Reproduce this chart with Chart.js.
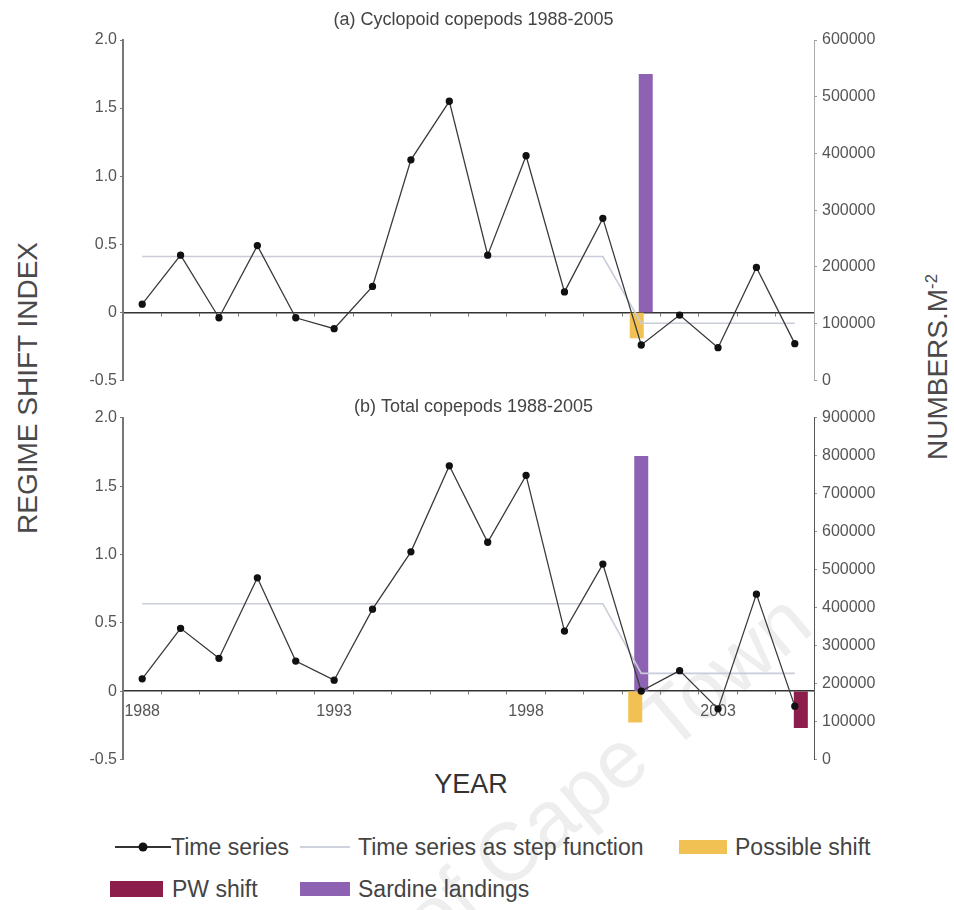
<!DOCTYPE html>
<html>
<head>
<meta charset="utf-8">
<script src="https://cdn.jsdelivr.net/npm/chart.js@4.4.1/dist/chart.umd.min.js"></script>
<style>
  body { margin: 0; background: #fff; }
  #page { position: relative; width: 954px; height: 910px; overflow: hidden; font-family: "Liberation Sans", Arial, sans-serif; color: #3a3a3a; }
  canvas { position: absolute; left: 0; z-index: 1; }
  #chartA { top: 0; }
  #chartB { top: 395px; }
  .rot { position: absolute; transform: translate(-50%, -50%) rotate(-90deg); white-space: nowrap; color: #4a4a4a; }
  .rot sup { font-size: 60%; }
  #yearLabel { position: absolute; left: 471px; top: 784px; transform: translate(-50%, -50%); font-size: 27px; color: #333; }
  .leg { position: absolute; display: flex; align-items: center; height: 28px; font-size: 23px; color: #444; white-space: nowrap; }
  .leg .sw { display: inline-block; width: 48px; height: 14px; margin-right: 8px; }
  #mark { position: absolute; left: 460px; top: 893px; transform: translate(-50%, -50%) rotate(-40deg); font-size: 82px; color: #eeeeee; white-space: nowrap; z-index: 0; }
</style>
</head>
<body>
<div id="page">
  <div id="mark">University of Cape Town</div>
  <canvas id="chartA" width="954" height="395"></canvas>
  <canvas id="chartB" width="954" height="379"></canvas>

  <div class="rot" style="left:28px;top:388px;font-size:28px;">REGIME SHIFT INDEX</div>
  <div class="rot" style="left:938px;top:367px;font-size:28px;">NUMBERS.M<sup>-2</sup></div>
  <div id="yearLabel">YEAR</div>

  <div class="leg" style="left:115px;top:833px;">
    <svg width="56" height="28"><line x1="0" y1="14" x2="56" y2="14" stroke="#333" stroke-width="2"/><circle cx="28" cy="14" r="4.5" fill="#111"/></svg>
    <span>Time series</span>
  </div>
  <div class="leg" style="left:300px;top:833px;">
    <svg width="50" height="28" style="margin-right:8px"><line x1="0" y1="14" x2="50" y2="14" stroke="#cfd1dc" stroke-width="2"/></svg>
    <span>Time series as step function</span>
  </div>
  <div class="leg" style="left:679px;top:833px;">
    <span class="sw" style="background:#f2c153"></span><span>Possible shift</span>
  </div>
  <div class="leg" style="left:110px;top:875px;">
    <span class="sw" style="background:#8b1e4a;width:53px;height:16px;margin-right:9px"></span><span>PW shift</span>
  </div>
  <div class="leg" style="left:300px;top:875px;">
    <span class="sw" style="background:#8e62b3;width:50px"></span><span>Sardine landings</span>
  </div>
</div>

<script>
// years on the x axis
const years = [1988, 1989, 1990, 1991, 1992, 1993, 1994, 1995, 1996, 1997,
               1998, 1999, 2000, 2001, 2002, 2003, 2004, 2005];
const yearLabelEvery = 5;

// left axis (regime shift index)
const indexMin = -0.5;
const indexMax = 2.0;

// (a) cyclopoid copepods
const cyclopoidIndex = [0.06, 0.42, -0.04, 0.49, -0.04, -0.12, 0.19, 1.12, 1.55, 0.42,
                        1.15, 0.15, 0.69, -0.24, -0.02, -0.26, 0.33, -0.23];
const cyclopoidStep = [0.41, 0.41, 0.41, 0.41, 0.41, 0.41, 0.41, 0.41, 0.41, 0.41,
                       0.41, 0.41, 0.41, -0.08, -0.08, -0.08, -0.08, -0.08];
const cyclopoidPossibleShift = [null, null, null, null, null, null, null, null, null, null,
                                null, null, null, -0.19, null, null, null, null];
const cyclopoidSardine = [null, null, null, null, null, null, null, null, null, null,
                          null, null, null, 540000, null, null, null, null];
const cyclopoidRightMax = 600000;

// (b) total copepods
const totalIndex = [0.09, 0.46, 0.24, 0.83, 0.22, 0.08, 0.60, 1.02, 1.65, 1.09,
                    1.58, 0.44, 0.93, 0.0, 0.15, -0.13, 0.71, -0.11];
const totalStep = [0.64, 0.64, 0.64, 0.64, 0.64, 0.64, 0.64, 0.64, 0.64, 0.64,
                   0.64, 0.64, 0.64, 0.13, 0.13, 0.13, 0.13, 0.13];
const totalPossibleShift = [null, null, null, null, null, null, null, null, null, null,
                            null, null, null, -0.23, null, null, null, null];
const totalPwShift = [null, null, null, null, null, null, null, null, null, null,
                      null, null, null, null, null, null, null, -0.27];
const totalSardine = [null, null, null, null, null, null, null, null, null, null,
                      null, null, null, 800000, null, null, null, null];
const totalRightMax = 900000;

const rightStep = 100000;

const FONT = '"Liberation Sans", Arial, sans-serif';

function makeChart(canvas, title, titlePad, index, step, shift, sardine, pwShift, rightMax, showYears, barPct, rightDash) {
    // sardine bars start from the zero line of the left axis
    const sardineBase = (0 - indexMin) / (indexMax - indexMin) * rightMax;

    const datasets = [
        {
            type: 'line',
            label: 'Time series',
            data: index,
            yAxisID: 'y',
            borderColor: '#3a3a3a',
            borderWidth: 1.3,
            pointRadius: 3,
            pointBackgroundColor: '#111',
            pointBorderColor: '#111',
            tension: 0
        },
        {
            type: 'line',
            label: 'Time series as step function',
            data: step,
            yAxisID: 'y',
            borderColor: '#c9ccd9',
            borderWidth: 1.6,
            pointRadius: 0,
            tension: 0
        },
        {
            type: 'bar',
            label: 'Possible shift',
            data: shift,
            yAxisID: 'y',
            backgroundColor: '#f2c153'
        },
        {
            type: 'bar',
            label: 'Sardine landings',
            data: sardine,
            yAxisID: 'y2',
            base: sardineBase,
            backgroundColor: '#8e62b3'
        }
    ];
    if (pwShift) {
        datasets.push({
            type: 'bar',
            label: 'PW shift',
            data: pwShift,
            yAxisID: 'y',
            backgroundColor: '#8b1e4a'
        });
    }

    const config = {
        type: 'bar',
        data: {
            labels: years.map(String),
            datasets: datasets
        },
        options: {
            responsive: false,
            animation: false,
            categoryPercentage: 0.47,
            barPercentage: barPct,
            layout: {
                padding: { left: 63, right: 70, top: 0, bottom: 12 }
            },
            plugins: {
                legend: { display: false },
                tooltip: { enabled: false },
                title: {
                    display: true,
                    text: title,
                    color: '#444',
                    font: { size: 18, weight: 'normal', family: FONT },
                    padding: titlePad
                }
            },
            scales: {
                x: {
                    type: 'category',
                    offset: true,
                    position: { y: 0 },
                    afterFit: (s) => { s.height = 0; },
                    grid: { drawOnChartArea: false, drawTicks: true, tickLength: 3, color: '#777', offset: true },
                    border: { display: true, color: '#333', width: 1.5 },
                    ticks: {
                        display: showYears,
                        autoSkip: false,
                        maxRotation: 0,
                        padding: 8,
                        color: '#555',
                        font: { size: 16, family: FONT },
                        callback: (v, i) => ((years[i] - years[0]) % yearLabelEvery === 0 ? String(years[i]) : '')
                    }
                },
                y: {
                    position: 'left',
                    min: indexMin,
                    max: indexMax,
                    afterFit: (s) => { s.width = 60; },
                    grid: { drawOnChartArea: false, drawTicks: true, tickLength: 3, color: '#777' },
                    border: { display: true, color: '#777', width: 2 },
                    ticks: {
                        stepSize: 0.5,
                        padding: 3,
                        color: '#555',
                        font: { size: 16, family: FONT },
                        callback: (v) => (v === 0 ? '0' : v.toFixed(1))
                    }
                },
                y2: {
                    position: 'right',
                    min: 0,
                    max: rightMax,
                    afterFit: (s) => { s.width = 70; },
                    grid: { drawOnChartArea: false, drawTicks: true, tickLength: 3, color: '#999' },
                    border: { display: true, color: rightDash ? '#aaa' : '#555', width: 1, dash: rightDash ? [2, 3] : [] },
                    ticks: {
                        stepSize: rightStep,
                        padding: 5,
                        color: '#555',
                        font: { size: 16, family: FONT },
                        callback: (v) => String(v)
                    }
                }
            }
        }
    };

    return new Chart(canvas, config);
}

makeChart(document.getElementById('chartA'), '(a) Cyclopoid copepods 1988-2005',
    { top: 9.2, bottom: 9.2 },
    cyclopoidIndex, cyclopoidStep, cyclopoidPossibleShift, cyclopoidSardine, null,
    cyclopoidRightMax, false, 1.55, true);

makeChart(document.getElementById('chartB'), '(b) Total copepods 1988-2005',
    { top: 1.2, bottom: 0.2 },
    totalIndex, totalStep, totalPossibleShift, totalSardine, totalPwShift,
    totalRightMax, true, 2.33, false);
</script>
</body>
</html>
